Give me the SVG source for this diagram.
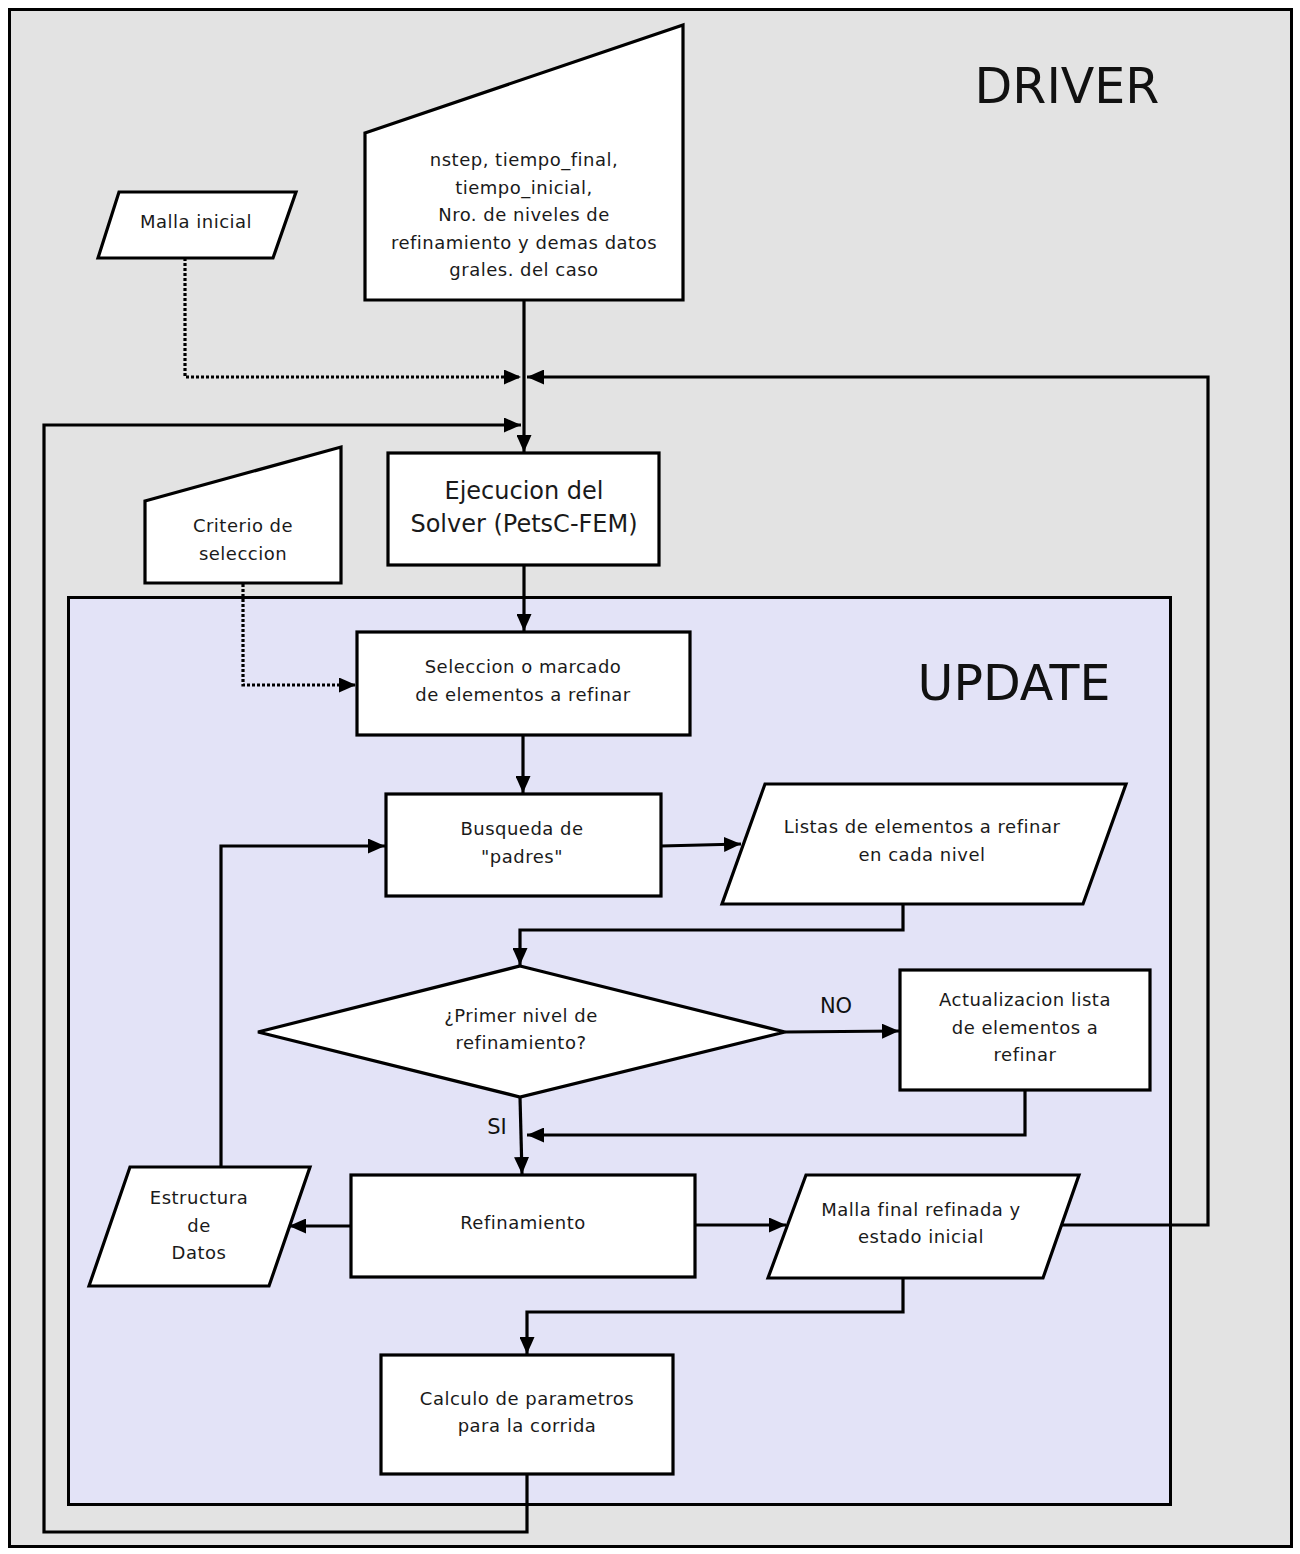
<svg xmlns="http://www.w3.org/2000/svg" width="1300" height="1554" viewBox="0 0 1300 1554">
<defs>
<marker id="ah" markerUnits="userSpaceOnUse" markerWidth="17" markerHeight="15" viewBox="0 0 17 15" refX="17" refY="7.5" orient="auto">
<path d="M0,0 L17,7.5 L0,15 z" fill="#000"/>
</marker>
</defs>
<style>
.node{fill:#fff;stroke:#000;stroke-width:3.2;stroke-linejoin:miter}
.con{fill:none;stroke:#000;stroke-width:3.2}
.dot{fill:none;stroke:#000;stroke-width:3.2;stroke-dasharray:3 2}
.t{font-family:"DejaVu Sans",sans-serif;font-size:18px;fill:#1a1a1a;text-anchor:middle;letter-spacing:0.5px}
.tl{font-family:"DejaVu Sans",sans-serif;font-size:24px;fill:#1a1a1a;text-anchor:middle}
.big{font-family:"DejaVu Sans",sans-serif;font-size:49px;fill:#111;text-anchor:middle}
.lab{font-family:"DejaVu Sans",sans-serif;font-size:21px;fill:#111;text-anchor:middle}
</style>
<rect width="1300" height="1554" fill="#fff"/>
<g id="driver">
<rect x="9.5" y="9.5" width="1282" height="1537" fill="#e3e3e3" stroke="#000" stroke-width="3"/>
<text class="big" x="1067" y="103">DRIVER</text>
</g>
<g id="update">
<rect x="68.5" y="597.5" width="1102" height="907" fill="#e3e3f7" stroke="#000" stroke-width="3"/>
<text class="big" x="1014" y="700">UPDATE</text>
</g>
<g id="connectors">
<path class="dot" d="M185,258 V377 H521" marker-end="url(#ah)"/>
<path class="con" d="M524,300 V452" marker-end="url(#ah)"/>
<path class="con" d="M1060,1225 H1208 V377 H527" marker-end="url(#ah)"/>
<path class="con" d="M527,1474 V1532 H44 V425 H521" marker-end="url(#ah)"/>
<path class="con" d="M524,565 V631" marker-end="url(#ah)"/>
<path class="dot" d="M243,584 V685 H356" marker-end="url(#ah)"/>
<path class="con" d="M523,735 V793" marker-end="url(#ah)"/>
<path class="con" d="M661,846 L741,844" marker-end="url(#ah)"/>
<path class="con" d="M903,904 V930 H520 V965" marker-end="url(#ah)"/>
<path class="con" d="M785,1032 L899,1031" marker-end="url(#ah)"/>
<path class="con" d="M1025,1090 V1135 H527" marker-end="url(#ah)"/>
<path class="con" d="M520,1097 L522,1174" marker-end="url(#ah)"/>
<path class="con" d="M351,1226 H289" marker-end="url(#ah)"/>
<path class="con" d="M221,1167 V846 H385" marker-end="url(#ah)"/>
<path class="con" d="M695,1225 H786" marker-end="url(#ah)"/>
<path class="con" d="M903,1278 V1312 H527 V1354" marker-end="url(#ah)"/>
<text class="lab" x="836" y="1013">NO</text>
<text class="lab" x="497" y="1134">SI</text>
</g>
<g id="datos-generales">
<polygon class="node" points="365,133 683,25 683,300 365,300"/>
<text class="t" x="524" y="166">nstep, tiempo_final,</text>
<text class="t" x="524" y="194">tiempo_inicial,</text>
<text class="t" x="524" y="221">Nro. de niveles de</text>
<text class="t" x="524" y="249">refinamiento y demas datos</text>
<text class="t" x="524" y="276">grales. del caso</text>
</g>
<g id="malla-inicial">
<polygon class="node" points="119,192 296,192 273,258 98,258"/>
<text class="t" x="196" y="228">Malla inicial</text>
</g>
<g id="criterio">
<polygon class="node" points="145,501 341,447 341,583 145,583"/>
<text class="t" x="243" y="532">Criterio de</text>
<text class="t" x="243" y="560">seleccion</text>
</g>
<g id="ejecucion">
<rect class="node" x="388" y="453" width="271" height="112"/>
<text class="tl" x="524" y="499">Ejecucion del</text>
<text class="tl" x="524" y="532">Solver (PetsC-FEM)</text>
</g>
<g id="seleccion">
<rect class="node" x="357" y="632" width="333" height="103"/>
<text class="t" x="523" y="673">Seleccion o marcado</text>
<text class="t" x="523" y="701">de elementos a refinar</text>
</g>
<g id="busqueda">
<rect class="node" x="386" y="794" width="275" height="102"/>
<text class="t" x="522" y="835">Busqueda de</text>
<text class="t" x="522" y="863">"padres"</text>
</g>
<g id="listas">
<polygon class="node" points="765,784 1126,784 1083,904 722,904"/>
<text class="t" x="922" y="833">Listas de elementos a refinar</text>
<text class="t" x="922" y="861">en cada nivel</text>
</g>
<g id="decision">
<polygon class="node" points="520,966 785,1032 520,1097 258,1032"/>
<text class="t" x="521" y="1022">¿Primer nivel de</text>
<text class="t" x="521" y="1049">refinamiento?</text>
</g>
<g id="actualizacion">
<rect class="node" x="900" y="970" width="250" height="120"/>
<text class="t" x="1025" y="1006">Actualizacion lista</text>
<text class="t" x="1025" y="1034">de elementos a</text>
<text class="t" x="1025" y="1061">refinar</text>
</g>
<g id="refinamiento">
<rect class="node" x="351" y="1175" width="344" height="102"/>
<text class="t" x="523" y="1229">Refinamiento</text>
</g>
<g id="estructura">
<polygon class="node" points="130,1167 310,1167 269,1286 89,1286"/>
<text class="t" x="199" y="1204">Estructura</text>
<text class="t" x="199" y="1232">de</text>
<text class="t" x="199" y="1259">Datos</text>
</g>
<g id="malla-final">
<polygon class="node" points="806,1175 1079,1175 1043,1278 768,1278"/>
<text class="t" x="921" y="1216">Malla final refinada y</text>
<text class="t" x="921" y="1243">estado inicial</text>
</g>
<g id="calculo">
<rect class="node" x="381" y="1355" width="292" height="119"/>
<text class="t" x="527" y="1405">Calculo de parametros</text>
<text class="t" x="527" y="1432">para la corrida</text>
</g>
</svg>
